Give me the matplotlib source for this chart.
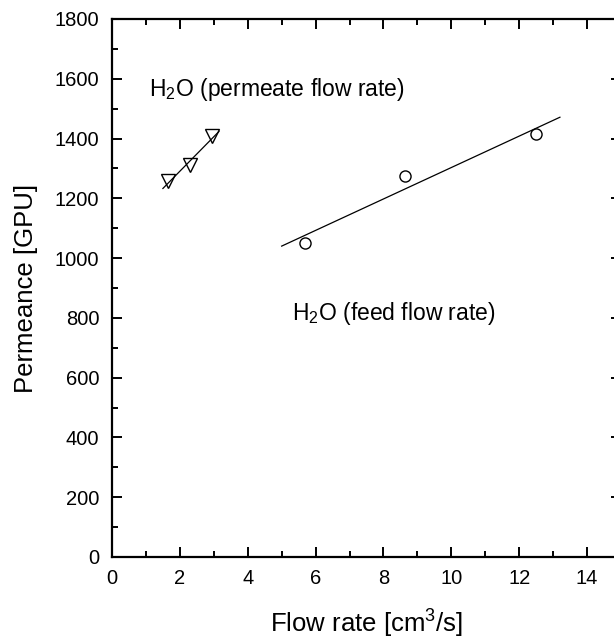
#!/usr/bin/env python3
"""
Permeance vs flow rate (feed and permeate side), open markers + linear fits
"""
import matplotlib
matplotlib.use('Agg')
import matplotlib.pyplot as plt
import numpy as np
from matplotlib.ticker import MultipleLocator

plt.rcParams['font.family'] = ['Liberation Sans', 'DejaVu Sans']
plt.rcParams['mathtext.fontset'] = 'custom'
plt.rcParams['mathtext.rm'] = 'Liberation Sans'
plt.rcParams['mathtext.it'] = 'Liberation Sans:italic'

# permeate flow rate series (down triangles)
PERM_FLOW = [1.65, 2.3, 2.95]
PERM_VALUES = [1258, 1310, 1408]

# feed flow rate series (circles)
FEED_FLOW = [5.7, 8.62, 12.5]
FEED_VALUES = [1051, 1276, 1415]

# x range over which each fit line was drawn
PERM_FIT_RANGE = (1.5, 3.15)
FEED_FIT_RANGE = (5.0, 13.2)

LABEL_PERM = 'H$_2$O (permeate flow rate)'
LABEL_FEED = 'H$_2$O (feed flow rate)'


def fit_line(x, y, xr):
    k, b = np.polyfit(x, y, 1)
    xs = np.array(xr)
    return xs, k * xs + b


def main():
    fig = plt.figure(figsize=(6.14, 6.39), dpi=100)
    ax = fig.add_axes([112 / 614, 82 / 639, 509 / 614, 538 / 639])

    ax.plot(PERM_FLOW, PERM_VALUES, linestyle='none', marker='v',
            markersize=10, mfc='none', mec='black', mew=1.0)
    xs, ys = fit_line(PERM_FLOW, PERM_VALUES, PERM_FIT_RANGE)
    ax.plot(xs, ys, color='black', lw=0.9)

    ax.plot(FEED_FLOW, FEED_VALUES, linestyle='none', marker='o',
            markersize=8, mfc='none', mec='black', mew=1.0)
    xs, ys = fit_line(FEED_FLOW, FEED_VALUES, FEED_FIT_RANGE)
    ax.plot(xs, ys, color='black', lw=0.9)

    ax.text(1.1, 1541, LABEL_PERM, fontsize=16.5, va='baseline', ha='left')
    ax.text(5.3, 793, LABEL_FEED, fontsize=16.5, va='baseline', ha='left')

    ax.set_xlim(0, 15)
    ax.set_ylim(0, 1800)
    ax.xaxis.set_major_locator(MultipleLocator(2))
    ax.xaxis.set_minor_locator(MultipleLocator(1))
    ax.yaxis.set_major_locator(MultipleLocator(200))
    ax.yaxis.set_minor_locator(MultipleLocator(100))

    ax.tick_params(which='both', direction='in', top=True, right=True,
                   width=1.4, labelsize=14.5, pad=9)
    ax.tick_params(which='major', length=7)
    ax.tick_params(which='minor', length=4)
    for sp in ax.spines.values():
        sp.set_linewidth(1.6)

    ax.set_xlabel('Flow rate [cm$^3$/s]', fontsize=18.5, labelpad=14)
    ax.set_ylabel('Permeance [GPU]', fontsize=18.5, labelpad=12)

    fig.savefig('out.png', dpi=100)
    plt.close(fig)


if __name__ == '__main__':
    main()
